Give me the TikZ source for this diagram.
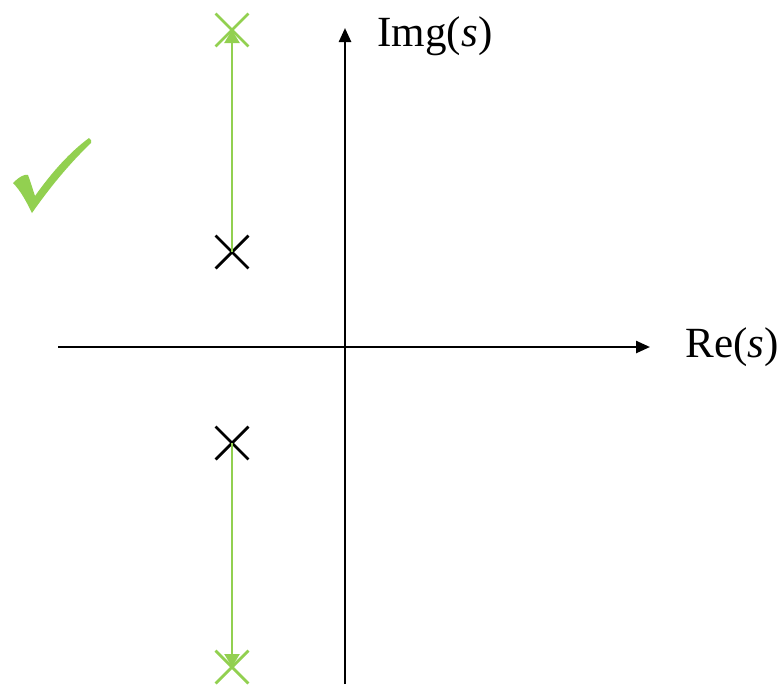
\documentclass[tikz,border=0pt]{standalone}
\usepackage{fontspec}
\setmainfont{Liberation Serif}
\usepackage{tikz}
\usetikzlibrary{arrows.meta,shapes.misc}
\definecolor{locusgreen}{HTML}{92D050}

\begin{document}
\begin{tikzpicture}[x=0.02cm, y=-0.02cm,
  axisline/.style={line width=1.4pt, draw=black, -{Triangle[length=0.28cm, width=0.24cm]}},
  locusline/.style={line width=1.3pt, draw=locusgreen, -{Triangle[length=0.26cm, width=0.3cm]}},
  polemark/.style={cross out, draw=black, line width=1.6pt, minimum size=0.6cm, inner sep=0pt},
  endmark/.style={polemark, draw=locusgreen},
  axislabel/.style={font=\fontsize{24.5}{29}\selectfont, inner sep=0pt},
]
\useasboundingbox (0,0) rectangle (777,684);
% axes
\coordinate (xstart) at (58,347);
\coordinate (xend) at (650,347);
\coordinate (ystart) at (345,684);
\coordinate (yend) at (345,28);
\draw[axisline] (xstart) -- (xend);
\draw[axisline] (ystart) -- (yend);
\node[axislabel, anchor=west] (relabel) at (685,347) {Re(\textit{s})};
\node[axislabel] (imlabel) at (435,36) {Img(\textit{s})};

% poles and where they go
\node[polemark] (poleup) at (232,252) {};
\node[polemark] (poledown) at (232,443) {};
\node[endmark] (endup) at (232,30) {};
\node[endmark] (enddown) at (232,667) {};
\draw[locusline] (poleup.center) -- (endup.center);
\draw[locusline] (poledown.center) -- (enddown.center);

% check mark
\fill[locusgreen] (13,183) .. controls (20,176) and (25,174) .. (28,175)
  .. controls (31,183) and (33,190) .. (35,196)
  .. controls (52,172) and (70,152) .. (89,138)
  .. controls (91,139) and (92,141) .. (91,143)
  .. controls (68,165) and (48,190) .. (32,213)
  .. controls (27,203) and (21,191) .. (13,183) -- cycle;
\end{tikzpicture}
\end{document}
